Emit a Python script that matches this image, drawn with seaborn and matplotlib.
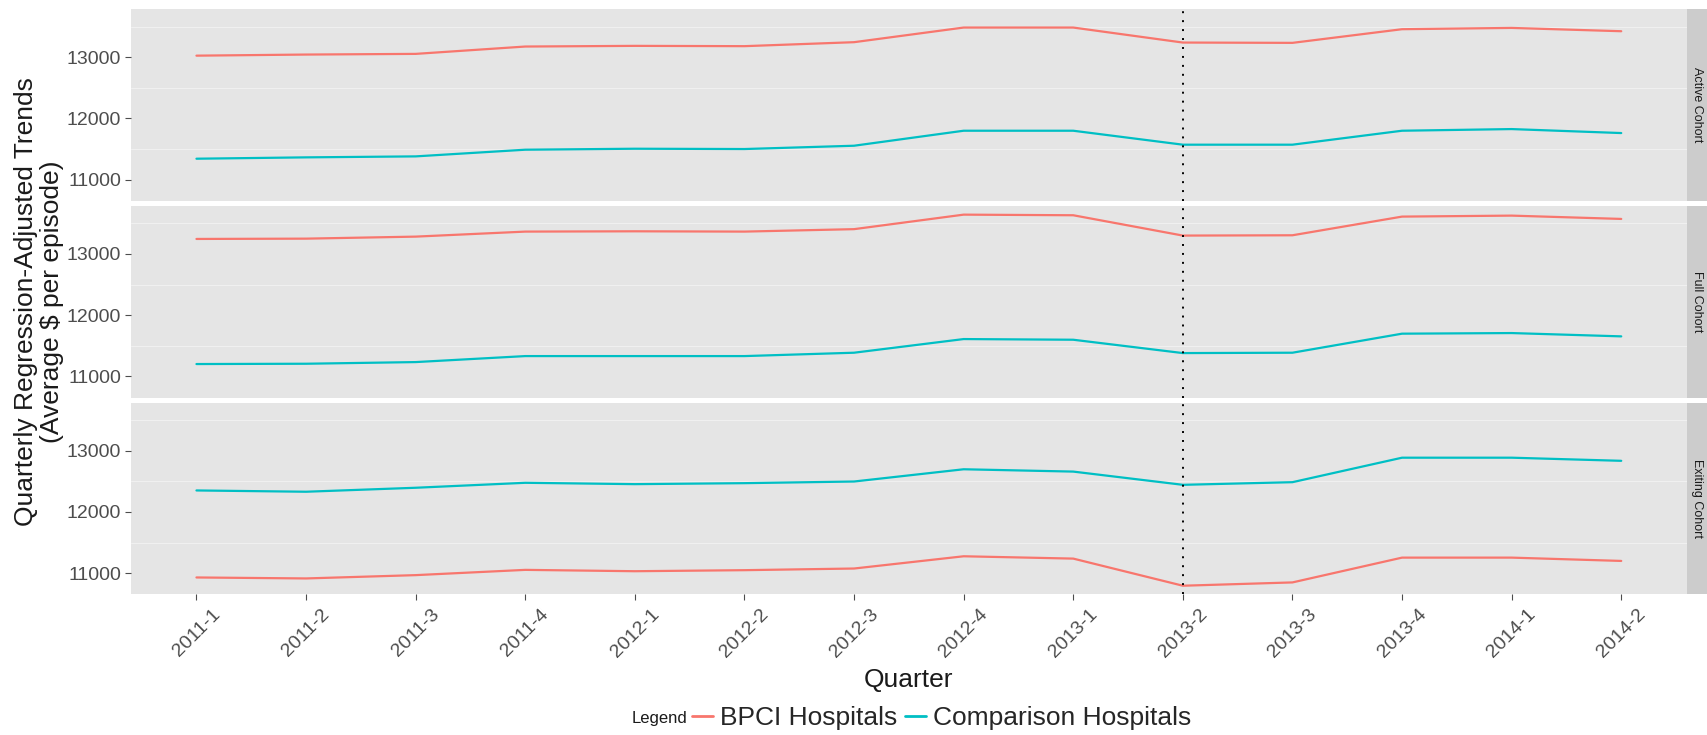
import numpy as np
import pandas as pd
import matplotlib
matplotlib.use("Agg")
import matplotlib.pyplot as plt
import seaborn as sns
from matplotlib.lines import Line2D

# ---------------- data ----------------
quarters = ['2011-1', '2011-2', '2011-3', '2011-4', '2012-1', '2012-2', '2012-3',
            '2012-4', '2013-1', '2013-2', '2013-3', '2013-4', '2014-1', '2014-2']
cohorts = ['Active Cohort', 'Full Cohort', 'Exiting Cohort']
groups = ['BPCI Hospitals', 'Comparison Hospitals']

active_bpci = [13025, 13043, 13054, 13174, 13185, 13180, 13245, 13484, 13484, 13239, 13234, 13457, 13478, 13424]
active_comp = [11342, 11364, 11380, 11489, 11505, 11500, 11554, 11799, 11799, 11571, 11571, 11799, 11826, 11761]
full_bpci = [13245, 13250, 13283, 13365, 13370, 13365, 13405, 13642, 13632, 13300, 13305, 13610, 13626, 13572]
full_comp = [11202, 11207, 11234, 11332, 11332, 11332, 11387, 11610, 11599, 11381, 11387, 11698, 11708, 11654]
exit_bpci = [10930, 10914, 10968, 11054, 11032, 11049, 11076, 11276, 11238, 10795, 10849, 11254, 11254, 11200]
exit_comp = [12351, 12330, 12395, 12476, 12454, 12470, 12497, 12697, 12659, 12443, 12486, 12886, 12886, 12835]

intervention_quarter = '2013-2'
y_ticks = [11000, 12000, 13000]
y_minor = [11500, 12500, 13500]

series = {
    ('Active Cohort', 'BPCI Hospitals'): active_bpci,
    ('Active Cohort', 'Comparison Hospitals'): active_comp,
    ('Full Cohort', 'BPCI Hospitals'): full_bpci,
    ('Full Cohort', 'Comparison Hospitals'): full_comp,
    ('Exiting Cohort', 'BPCI Hospitals'): exit_bpci,
    ('Exiting Cohort', 'Comparison Hospitals'): exit_comp,
}
rows = []
for (c, g), vals in series.items():
    for q, v in zip(quarters, vals):
        rows.append({'Cohort': c, 'Group': g, 'Quarter': q, 'Value': v})
df = pd.DataFrame(rows)

colors = {'BPCI Hospitals': '#F8766D', 'Comparison Hospitals': '#00BFC4'}

# ---------------- figure ----------------
sns.set_style('white')
plt.rcParams['font.family'] = ['Liberation Sans', 'DejaVu Sans']

W, H = 1707, 735
fig, axes = plt.subplots(3, 1, figsize=(W / 100, H / 100), dpi=100, sharex=True, sharey=True)
left, right, top, bottom = 130.7 / W, 1687 / W, 1 - 9 / H, 1 - 594.3 / H
fig.subplots_adjust(left=left, right=right, top=top, bottom=bottom, hspace=0.026)

tick_col = '#4D4D4D'
for i, (ax, cohort) in enumerate(zip(axes, cohorts)):
    sub = df[df['Cohort'] == cohort]
    sns.lineplot(data=sub, x='Quarter', y='Value', hue='Group', hue_order=groups,
                 palette=colors, ax=ax, legend=False, linewidth=1.6, sort=False,
                 errorbar=None)
    ax.set_facecolor('#E5E5E5')
    for s in ax.spines.values():
        s.set_visible(False)
    ax.set_yticks(y_ticks)
    ax.set_yticks(y_minor, minor=True)
    ax.grid(False)
    ax.grid(which='minor', axis='y', color='#F0F0F0', linewidth=0.8)
    ax.set_axisbelow(True)
    ax.axvline(quarters.index(intervention_quarter), color='black', linewidth=1.4,
               linestyle=(0, (1, 3.6)), zorder=5)
    ax.set_xlim(-0.6, len(quarters) - 1 + 0.6)
    ax.set_ylim(10655, 13787)
    ax.set_xlabel('')
    ax.set_ylabel('')
    ax.tick_params(axis='y', which='major', length=4, width=0.8, color=tick_col,
                   labelsize=14, labelcolor=tick_col, pad=3, left=True)
    ax.tick_params(axis='y', which='minor', length=0)
    if i < 2:
        ax.tick_params(axis='x', length=0, labelbottom=False)
    else:
        ax.tick_params(axis='x', length=4, width=0.8, color=tick_col, labelsize=14,
                       labelcolor=tick_col, pad=4, bottom=True)
        for lab in ax.get_xticklabels():
            lab.set_rotation(45)
            lab.set_ha('center')
            lab.set_va('top')
    # facet strip
    pos = ax.get_position()
    sax = fig.add_axes([pos.x1, pos.y0, 20 / W, pos.height])
    sax.set_facecolor('#CCCCCC')
    for s in sax.spines.values():
        s.set_visible(False)
    sax.set_xticks([])
    sax.set_yticks([])
    sax.text(0.5, 0.5, cohort, rotation=-90, ha='center', va='center',
             fontsize=9, color='#1A1A1A', transform=sax.transAxes)

mid_y = (top + bottom) / 2
fig.text(39 / W, mid_y, 'Quarterly Regression-Adjusted Trends\n(Average $ per episode)',
         rotation=90, ha='center', va='center', multialignment='center',
         fontsize=19, color='#1A1A1A', linespacing=1.12)
fig.text((left + right) / 2, 1 - 680 / H, 'Quarter', ha='center', va='center',
         fontsize=19, color='#1A1A1A')

handles = [Line2D([0], [0], color=colors[g], lw=2) for g in groups]
fig.legend(handles, groups, loc='center left', bbox_to_anchor=(692 / W, 1 - 718 / H),
           ncol=2, frameon=False, fontsize=19, handlelength=0.8, handletextpad=0.25,
           columnspacing=0.3, borderpad=0, borderaxespad=0)
fig.text(687 / W, 1 - 718 / H, 'Legend', ha='right', va='center', fontsize=12,
         color='#1A1A1A')

fig.savefig('out.png', dpi=100)
